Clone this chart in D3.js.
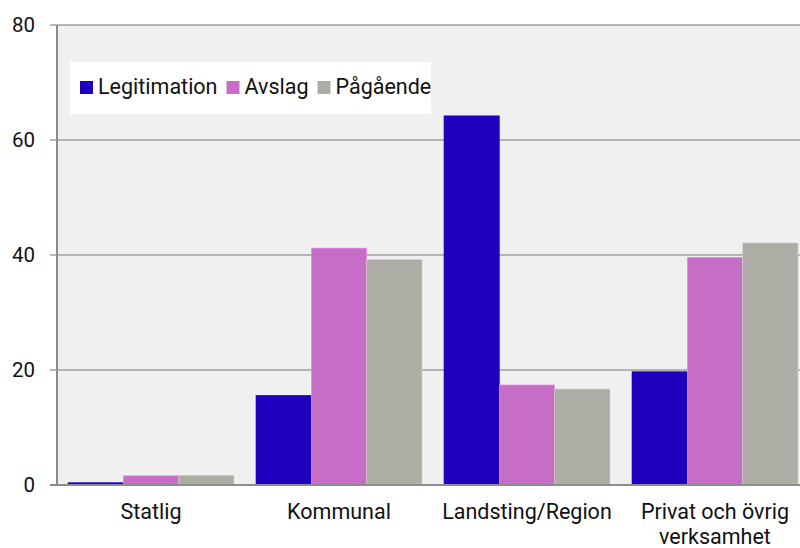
<!DOCTYPE html>
<html lang="sv">
<head>
  <meta charset="utf-8">
  <title>Legitimation per sektor</title>
  <script src="https://d3js.org/d3.v7.min.js"></script>
  <style>
    body { margin: 0; background: #fff; }
    text { font-family: Roboto, "Noto Sans", sans-serif; fill: #111; }
  </style>
</head>
<body>
<script>
// categories and series
var categories = ["Statlig", "Kommunal", "Landsting/Region", "Privat och övrig verksamhet"];
var seriesNames = ["Legitimation", "Avslag", "Pågående"];
var legitimation = [0.4, 15.6, 64.2, 19.7];
var avslag = [1.6, 41.2, 17.4, 39.6];
var pagaende = [1.7, 39.2, 16.7, 42.1];
var yTicks = [0, 20, 40, 60, 80];
var colors = ["#1f00bd", "#c66ec6", "#adada6"];

var width = 800, height = 548;
var margin = {top: 25, right: -9, bottom: 63, left: 57};

var svg = d3.select("body").append("svg")
    .attr("width", width)
    .attr("height", height);

var x0 = d3.scaleBand()
    .domain(categories)
    .range([margin.left, width - margin.right])
    .paddingInner(0.117)
    .paddingOuter(0.0585);

var x1 = d3.scaleBand()
    .domain(seriesNames)
    .range([0, x0.bandwidth()]);

var y = d3.scaleLinear()
    .domain([0, 80])
    .range([height - margin.bottom, margin.top]);

var values = [legitimation, avslag, pagaende];
var rows = categories.map(function(c, i) {
  return {cat: c, vals: seriesNames.map(function(s, j) { return {name: s, value: values[j][i], color: colors[j]}; })};
});

// plot background
svg.append("rect")
    .attr("x", margin.left)
    .attr("y", margin.top)
    .attr("width", width - margin.left)
    .attr("height", y(0) - margin.top)
    .attr("fill", "#f0f0f0");

// gridlines + ticks
svg.append("g")
    .selectAll("line")
    .data(yTicks.filter(function(d) { return d > 0; }))
    .enter().append("line")
    .attr("x1", margin.left - 7)
    .attr("x2", width)
    .attr("y1", function(d) { return y(d); })
    .attr("y2", function(d) { return y(d); })
    .attr("stroke", "#a0a0a0")
    .attr("stroke-width", 1.5);

svg.append("g")
    .selectAll("text")
    .data(yTicks)
    .enter().append("text")
    .attr("x", 35)
    .attr("y", function(d) { return y(d); })
    .attr("dy", "0.36em")
    .attr("text-anchor", "end")
    .style("font-size", "20.5px")
    .text(function(d) { return d; });

// bars
var group = svg.append("g").selectAll("g")
    .data(rows)
    .enter().append("g")
    .attr("transform", function(d) { return "translate(" + x0(d.cat) + ",0)"; });

group.selectAll("rect")
    .data(function(d) { return d.vals; })
    .enter().append("rect")
    .attr("x", function(d) { return x1(d.name); })
    .attr("y", function(d) { return y(d.value); })
    .attr("width", x1.bandwidth())
    .attr("height", function(d) { return y(0) - y(d.value); })
    .attr("fill", function(d) { return d.color; })
    .attr("stroke", function(d) { return d3.color(d.color).brighter(0.6); })
    .attr("stroke-width", 0.6);

// axis lines
svg.append("line")
    .attr("x1", margin.left).attr("x2", margin.left)
    .attr("y1", margin.top).attr("y2", y(0))
    .attr("stroke", "#8c8c8c").attr("stroke-width", 2);
svg.append("line")
    .attr("x1", margin.left - 7).attr("x2", width)
    .attr("y1", y(0)).attr("y2", y(0))
    .attr("stroke", "#8c8c8c").attr("stroke-width", 2);

// category labels
var labelLines = {
  "Privat och övrig verksamhet": ["Privat och övrig", "verksamhet"]
};
svg.append("g").selectAll("text")
    .data(categories)
    .enter().append("text")
    .attr("text-anchor", "middle")
    .attr("x", function(d) { return x0(d) + x0.bandwidth() / 2; })
    .attr("y", 519)
    .style("font-size", "21.5px")
    .each(function(d) {
      var lines = labelLines[d] || [d];
      var t = d3.select(this);
      lines.forEach(function(l, i) {
        t.append("tspan")
          .attr("x", x0(d) + x0.bandwidth() / 2)
          .attr("dy", i === 0 ? 0 : 25)
          .text(l);
      });
    });

// legend
var legend = svg.append("g").attr("transform", "translate(70,62)");
legend.append("rect")
    .attr("width", 361)
    .attr("height", 52)
    .attr("fill", "#fff");

var lx = 10;
seriesNames.forEach(function(s, i) {
  var item = legend.append("g").attr("transform", "translate(" + lx + ",0)");
  item.append("rect")
      .attr("x", 0).attr("y", 19)
      .attr("width", 13).attr("height", 13)
      .attr("fill", colors[i]);
  var t = item.append("text")
      .attr("x", 18).attr("y", 32)
      .style("font-size", "21.5px")
      .text(s);
  lx += 18 + t.node().getComputedTextLength() + 9;
});
</script>
</body>
</html>
